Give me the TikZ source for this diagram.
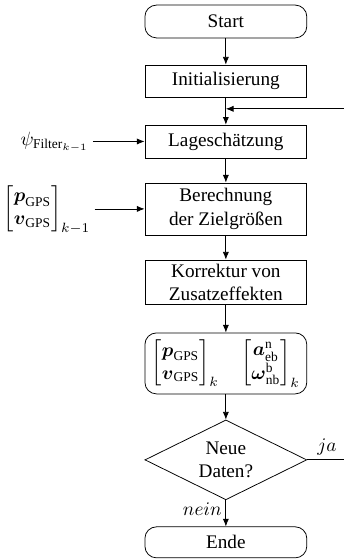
\documentclass[tikz,border=0pt]{standalone}
\usepackage{amsmath}
\usepackage{fontspec}
\setmainfont{Liberation Serif}
\usetikzlibrary{positioning,arrows.meta,shapes.geometric,calc}

\begin{document}
\begin{tikzpicture}[font=\normalsize]
\tikzset{
  PR/.style={draw,thin,rectangle,minimum width=2.96cm,align=center,inner sep=2pt},
  TE/.style={draw,thin,rectangle,rounded corners=6pt,minimum width=2.96cm,align=center,inner sep=2pt},
  DE/.style={draw,thin,diamond,aspect=2,minimum width=2.96cm,minimum height=1.46cm,align=center,inner sep=0pt},
  FL/.style={-{Latex[length=4pt,width=3.2pt]},thin},
  lb/.style={inner sep=2pt},
}
\useasboundingbox (0,0) rectangle (6.29,-10.24);

\node[TE,minimum height=0.60cm](start) at (4.13,-0.393){Start};
\node[PR,minimum height=0.585cm](init) at (4.13,-1.481){Initialisierung};
\node[PR,minimum height=0.60cm](lage) at (4.13,-2.587){Lageschätzung};
\node[PR,minimum height=0.95cm](ziel) at (4.13,-3.82){Berechnung\\der Zielgrößen};
\node[PR,minimum height=0.82cm](korr) at (4.13,-5.164){Korrektur von\\Zusatzeffekten};
\node[TE,minimum height=1.115cm](ergeb) at (4.13,-6.645){%
  $\begin{bmatrix}\boldsymbol{p}_\text{GPS}\\ \boldsymbol{v}_\text{GPS}\end{bmatrix}_k
   \quad
   \begin{bmatrix}\boldsymbol{a}^\text{n}_\text{eb}\\ \boldsymbol{\omega}^\text{b}_\text{nb}\end{bmatrix}_k$};
\node[DE](neu) at (4.13,-8.409){Neue\\Daten?};
\node[TE,minimum height=0.567cm](ende) at (4.13,-9.917){Ende};

\node[lb](psi) at (1.00,-2.60){$\psi_{\text{Filter}_{k-1}}$};
\node[lb](gps) at (0.86,-3.84){$\begin{bmatrix}\boldsymbol{p}_\text{GPS}\\ \boldsymbol{v}_\text{GPS}\end{bmatrix}_{k-1}$};

\coordinate (rueck) at (4.13,-1.99);

\draw[FL](start)--(init);
\draw[FL](init)--(lage);
\draw[FL](lage)--(ziel);
\draw[FL](ziel)--(korr);
\draw[FL](korr)--(ergeb);
\draw[FL](ergeb)--(neu);
\draw[FL](neu)--node[lb,left,pos=0.35]{$nein$}(ende);

\draw[FL](lage.west -| psi.east)--(lage.west);
\draw[FL](ziel.west -| gps.east)--(ziel.west);

\draw[FL](neu.east)--node[lb,above,pos=0.45]{$ja$}++(0.80,0)|-(rueck);

\end{tikzpicture}
\end{document}
